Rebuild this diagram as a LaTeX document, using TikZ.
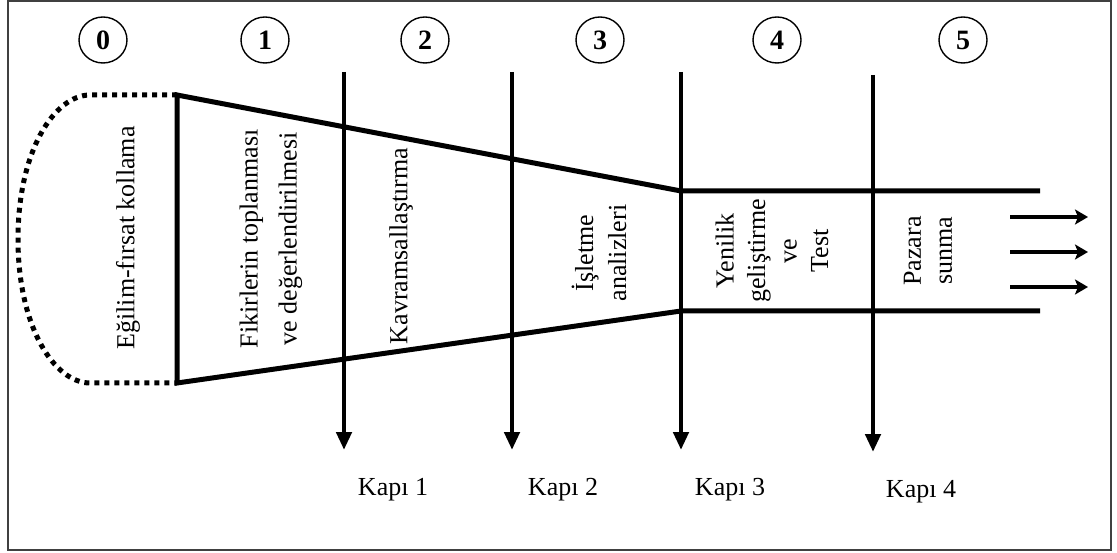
\documentclass[tikz,border=0pt]{standalone}
\usepackage{fontspec}
\setmainfont{Liberation Serif}
\usetikzlibrary{arrows.meta,shapes.geometric}
\begin{document}
\begin{tikzpicture}[x=1pt,y=-1pt,
  thickline/.style={line width=5pt,line join=miter},
  dotline/.style={line width=5pt,dash pattern=on 5pt off 5pt},
  gatearrow/.style={line width=4.5pt,-{Triangle[width=15pt,length=18pt]}},
  outarrow/.style={line width=4.5pt,-{Stealth[width=15pt,length=13pt,inset=3pt]}},
  phase/.style={draw,line width=1.4pt,ellipse,minimum width=48pt,minimum height=46pt,
    inner sep=0pt,font=\fontsize{28}{28}\selectfont\bfseries},
  stage/.style={rotate=90,align=center,inner sep=0pt},
  gatelabel/.style={anchor=base,inner sep=0pt,font=\fontsize{26}{26}\selectfont}]

\useasboundingbox (0,0) rectangle (1117,553);
\draw[line width=1.5pt,black!75] (8,1) rectangle (1111,550);

% phase numbers
\node[phase] (p0) at (103,40) {0};
\node[phase] (p1) at (265,40) {1};
\node[phase] (p2) at (425,40) {2};
\node[phase] (p3) at (600,40) {3};
\node[phase] (p4) at (777,40) {4};
\node[phase] (p5) at (963,40) {5};

% funnel outline
\coordinate (fa) at (177,95);
\coordinate (fb) at (177,383);
\coordinate (fc) at (681,191);
\coordinate (fd) at (681,311);
\coordinate (fe) at (1040,191);
\coordinate (ff) at (1040,311);
\draw[thickline] (fe) -- (fc) -- (fa) -- (fb) -- (fd) -- (ff);

% opportunity scanning area
\draw[dotline] (fa) -- (90,95) .. controls (55,95) and (18,150) .. (18,239)
  .. controls (18,328) and (55,383) .. (90,383) -- (fb);

% gates
\foreach \i/\x/\t/\b in {1/344/72/450, 2/512/72/450, 3/681/72/450, 4/873/75/452}{
  \coordinate (g\i t) at (\x,\t);
  \coordinate (g\i b) at (\x,\b);
  \draw[gatearrow] (g\i t) -- (g\i b);
}

% output arrows
\foreach \i/\y in {1/217, 2/252, 3/287}{
  \coordinate (o\i s) at (1010,\y);
  \coordinate (o\i e) at (1088,\y);
  \draw[outarrow] (o\i s) -- (o\i e);
}

% stage texts
\node[stage,font=\fontsize{26}{30}\selectfont] (s0) at (128,238) {Eğilim-fırsat kollama};
\node[stage,font=\fontsize{26}{39}\selectfont] (s1) at (271,239) {Fikirlerin toplanması\\ve değerlendirilmesi};
\node[stage,font=\fontsize{26}{30}\selectfont] (s2) at (401,246) {Kavramsallaştırma};
\node[stage,font=\fontsize{26}{33}\selectfont] (s3) at (599,253) {İşletme\\analizleri};
\node[stage,font=\fontsize{26}{31.5}\selectfont] (s4) at (772,251) {Yenilik\\geliştirme\\ve\\Test};
\node[stage,font=\fontsize{26}{31}\selectfont] (s5) at (928,251) {Pazara\\sunma};

% gate labels
\node[gatelabel] (k1) at (393,495) {Kapı 1};
\node[gatelabel] (k2) at (563,495) {Kapı 2};
\node[gatelabel] (k3) at (730,495) {Kapı 3};
\node[gatelabel] (k4) at (921,497) {Kapı 4};
\end{tikzpicture}
\end{document}
